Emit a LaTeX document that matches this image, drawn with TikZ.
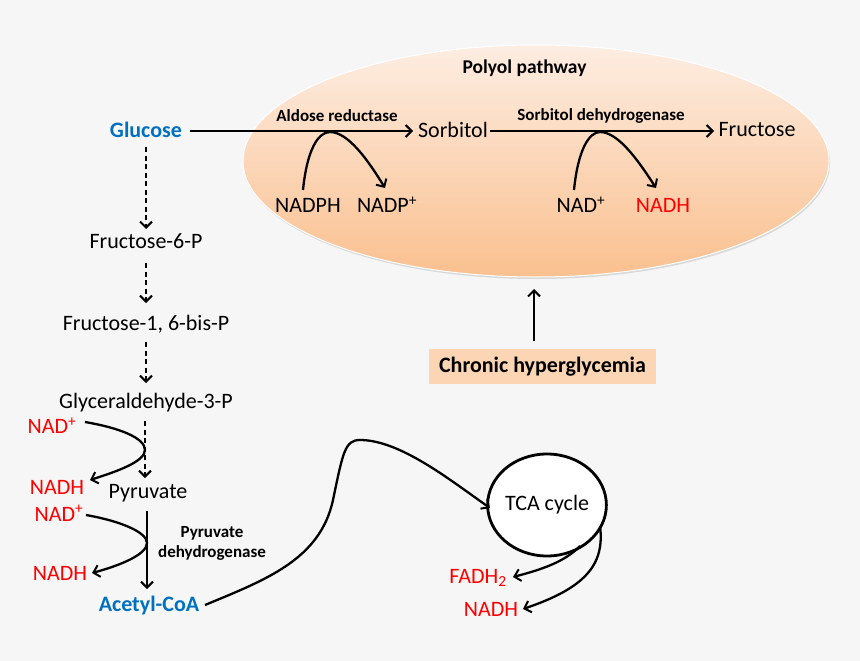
\documentclass[tikz,border=0pt]{standalone}
\usepackage{fontspec}
\setmainfont{Carlito}
\usetikzlibrary{arrows.meta,shadows,shapes.geometric}
\definecolor{bgc}{HTML}{F6F6F6}
\definecolor{glblue}{HTML}{0070C0}
\definecolor{peachtop}{HTML}{FDEDE2}
\definecolor{peachbot}{HTML}{FAC08F}
\definecolor{boxpeach}{HTML}{FCD5B5}
\begin{document}
\begin{tikzpicture}[x=1pt,y=-1pt,
  txt/.style={inner sep=0pt,font=\fontsize{22}{26}\selectfont},
  btxt/.style={inner sep=0pt,font=\fontsize{22}{26}\selectfont\bfseries},
  lbl/.style={inner sep=0pt,font=\fontsize{17}{20}\selectfont\bfseries,align=center},
  redt/.style={txt,text=red},
  bluet/.style={btxt,text=glblue},
  arr/.style={line width=2.3pt,-{Straight Barb[length=6pt,width=12pt,line width=2pt]}},
  darr/.style={arr,dash pattern=on 5pt off 3.5pt}]
\useasboundingbox (0,0) rectangle (860,661);
\fill[bgc] (0,0) rectangle (860,661);

% Polyol ellipse
\shade[top color=peachtop,bottom color=peachbot,draw=white,line width=1pt,
  drop shadow={opacity=0.25,shadow xshift=1pt,shadow yshift=-2pt}]
  (536,161) ellipse [x radius=293,y radius=116];
\node[lbl,font=\fontsize{19.5}{22}\selectfont\bfseries] (polyol) at (524.5,68) {Polyol pathway};

% top row
\node[bluet] (glucose) at (146,130) {Glucose};
\node[txt] (sorbitol) at (453,130) {Sorbitol};
\node[txt] (fructose) at (757,130) {Fructose};
\node[lbl] (aldose) at (337,116) {Aldose reductase};
\node[lbl] (sdh) at (601,116) {Sorbitol dehydrogenase};
\draw[arr] (glucose.east) ++(8,1) coordinate (g1) -- (413,131) coordinate (s0);
\draw[arr] (sorbitol.east) ++(2,1) coordinate (s1) -- (714,131) coordinate (f0);

\node[txt] (nadph) at (308,205) {NADPH};
\node[txt] (nadp) at (387,205) {NADP\textsuperscript{+}};
\node[txt] (nad1) at (581,205) {NAD\textsuperscript{+}};
\node[redt] (nadh1) at (663,205) {NADH};
\draw[arr] (303,190) .. controls (307,150) and (318,132) .. (330,132)
   .. controls (348,132) and (368,160) .. (385,188);
\draw[arr] (574,190) .. controls (578,150) and (589,132) .. (600,132)
   .. controls (618,132) and (638,160) .. (656,188);

% chronic hyperglycemia
\node[btxt,fill=boxpeach,minimum width=227pt,minimum height=35pt] (chronic) at (542.5,366.5) {Chronic hyperglycemia};
\draw[arr] (534,341) -- (534,289);

% glycolysis column
\node[txt] (f6p) at (146,241) {Fructose-6-P};
\node[txt] (f16p) at (146,324) {Fructose-1, 6-bis-P};
\node[txt] (g3p) at (146,403) {Glyceraldehyde-3-P};
\node[txt] (pyr) at (148,493) {Pyruvate};
\node[bluet] (acoa) at (149,606) {Acetyl-CoA};
\draw[darr] (146,147) -- (146,229);
\draw[darr] (146,263) -- (146,303);
\draw[darr] (146,342) -- (146,383);
\draw[darr] (145,421) -- (145,478);
\draw[arr] (147,511) -- (147,589);
\node[lbl] (pdh) at (212,543) {Pyruvate\\dehydrogenase};

\node[redt] (nad2) at (52,426) {NAD\textsuperscript{+}};
\node[redt] (nadh2) at (57,487) {NADH};
\node[redt] (nad3) at (59,513) {NAD\textsuperscript{+}};
\node[redt] (nadh3) at (60,573) {NADH};
\draw[arr] (85,422) .. controls (120,428) and (145,438) .. (145,450)
   .. controls (145,462) and (115,472) .. (90,480);
\draw[arr] (86,515) .. controls (120,521) and (147,532) .. (147,543)
   .. controls (147,555) and (118,566) .. (92,573);

% TCA
\node[draw,line width=2.8pt,ellipse,fill=white,minimum width=108pt,minimum height=102pt,inner sep=0pt,
  font=\fontsize{22}{26}\selectfont] (tca) at (547,505) {TCA cycle};
\draw[arr] (205,605) .. controls (265,580) and (320,560) .. (333,500)
   .. controls (343,452) and (345,440) .. (360,440)
   .. controls (400,440) and (450,480) .. (490,508);

\node[redt] (fadh) at (478,578) {FADH\textsubscript{2}};
\node[redt] (nadh4) at (491,609) {NADH};
\draw[arr] (580,546) .. controls (565,562) and (540,570) .. (513,577);
\draw[arr] (600,526) .. controls (605,565) and (585,588) .. (523,609);
\end{tikzpicture}
\end{document}
